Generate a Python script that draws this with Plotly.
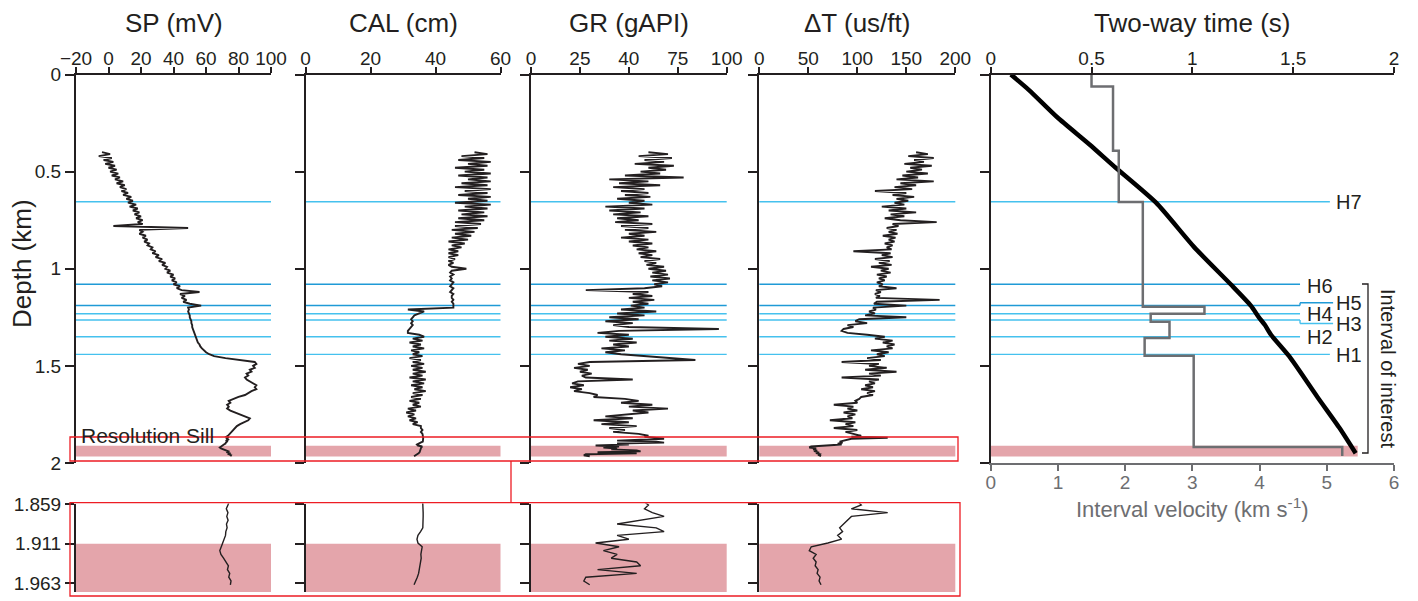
import plotly.graph_objects as go

# ---------------- data ----------------
# log sample depths (km): regular main section + finer section over the sill
DEPTH_MAIN = [round(0.40 + 0.01 * i, 3) for i in range(146)]      # 0.40 .. 1.85
DEPTH_DETAIL = [round(1.86 + 0.005 * i, 3) for i in range(22)]    # 1.86 .. 1.965

SP_MAIN = [-4, 1, -6, 2, -3, 3, -2, 4, 0, 5, 1, 6, 2, 7, 4, 9, 5, 10, 7, 11,
           8, 12, 9, 14, 11, 15, 12, 17, 13, 18, 15, 19, 16, 20, 17, 21, 18, 21, 3, 49,
           19, 21, 19, 23, 21, 24, 22, 25, 24, 27, 26, 29, 27, 31, 29, 33, 31, 35, 33, 36,
           35, 38, 36, 40, 38, 41, 39, 42, 40, 44, 42, 45, 56, 44, 47, 45, 48, 46, 50, 57,
           49, 49.5, 49, 49.5, 50, 50, 50.5, 51, 51, 51.5, 51.5, 52, 52.5, 53, 53, 53.5, 54, 54.5, 55, 56,
           56.5, 57.5, 58.5, 60, 62, 65, 72, 82, 90, 91, 89, 90, 87, 88, 85, 86, 84, 85, 87, 89,
           91, 90, 91, 88, 86, 84, 80, 77, 74, 75, 73, 74, 73, 75, 78, 81, 84, 87, 86, 83,
           81, 79, 78, 77, 76, 75]
SP_DETAIL = [73.5, 72.5, 73.5, 72.8, 73.6, 72.6, 73.0, 72.2, 72.0, 71.0, 70.2,
             69.4, 68.5, 69.2, 70.8, 72.5, 73.8, 73.2, 74.6, 74.0, 75.4, 75.0]

CAL_MAIN = [52, 56, 48, 55, 47, 57, 50, 56, 46, 55, 49, 57, 47, 56, 50, 57, 48, 56, 46, 57,
            49, 56, 47, 57, 50, 56, 46, 57, 49, 56, 47, 55, 48, 56, 47, 55, 46, 54, 46, 53,
            45, 52, 46, 51, 45, 50, 44, 49, 45, 48, 44, 47, 44, 47, 44, 46, 44, 45.5, 44, 45,
            49.5, 45, 44.5, 45.5, 44.5, 45, 44.5, 45.5, 45, 44.5, 45.5, 45, 44.5, 45.5, 45, 45, 45.5, 45, 45.5, 45.5,
            45.5, 31.5, 36.5, 35, 33.5, 33, 32.5, 33, 32.5, 33, 32.5, 32, 31.5, 31.5, 35, 36.5, 33, 36, 32, 35.5,
            33, 36.5, 32.5, 35, 33, 36, 32, 35.5, 33, 36.5, 32.5, 36, 33, 37, 33, 36, 32, 37, 33, 36.5,
            32.5, 36, 33.5, 37, 33, 36, 32.5, 35.5, 32, 35, 33, 35.5, 31.5, 34, 31, 33.5, 31.5, 34, 32, 34.5,
            33, 35.5, 35.5, 36, 35.5, 36]
CAL_DETAIL = [36.2, 36.2, 36.2, 36.2, 36.1, 36.2, 36.1, 35.4, 34.6, 34.3, 34.6,
              35.9, 35.6, 35.5, 35.6, 35.4, 35.4, 35.1, 34.8, 34.4, 33.8, 33.4]

GR_MAIN = [60, 70, 55, 72, 58, 68, 53, 73, 60, 69, 56, 66, 48, 78, 40, 60, 45, 66, 42, 58,
           46, 60, 48, 61, 44, 58, 50, 62, 38, 58, 40, 56, 42, 60, 44, 55, 43, 62, 46, 60,
           48, 64, 50, 58, 46, 60, 50, 62, 52, 60, 54, 64, 55, 62, 56, 66, 58, 64, 59, 68,
           60, 69, 62, 70, 61, 71, 62, 70, 63, 67, 58, 28, 60, 52, 62, 50, 63, 52, 60, 51,
           58, 46, 64, 44, 58, 40, 55, 38, 52, 42, 50, 96, 45, 34, 50, 38, 52, 40, 54, 42,
           50, 36, 48, 38, 46, 60, 70, 84, 30, 24, 30, 22, 29, 25, 31, 26, 28, 52, 24, 21,
           27, 20, 26, 22, 30, 34, 32, 48, 55, 46, 62, 50, 70, 52, 60, 48, 38, 52, 32, 50,
           36, 54, 40, 48, 42, 55]
GR_DETAIL = [60, 58, 62, 68, 56, 44, 64, 68, 44, 50, 33,
             45, 37, 44, 41, 54, 56, 34, 54, 28, 27, 30]

DT_MAIN = [160, 172, 152, 178, 158, 168, 148, 176, 154, 166, 150, 172, 146, 162, 140, 178, 144, 160, 138, 156,
           118, 150, 136, 158, 140, 152, 138, 148, 125, 150, 132, 160, 134, 148, 128, 144, 181, 136, 142, 130,
           140, 132, 141, 126, 139, 132, 138, 128, 136, 130, 135, 96, 134, 125, 136, 118, 133, 122, 135, 114,
           132, 124, 134, 120, 130, 122, 128, 120, 126, 122, 140, 119, 124, 118, 123, 119, 184, 120, 117, 150,
           116, 119, 112, 118, 108, 150, 102, 98, 110, 90, 96, 86, 84, 90, 110, 128, 118, 136, 126, 138,
           130, 136, 114, 132, 120, 128, 110, 124, 84, 122, 112, 130, 108, 140, 112, 124, 84, 122, 112, 118,
           108, 116, 104, 118, 110, 116, 104, 102, 98, 100, 76, 96, 90, 100, 86, 98, 90, 95, 72, 98,
           88, 96, 76, 100, 88, 96]
DT_DETAIL = [104, 94, 131, 94, 90, 86, 82, 85, 80, 84, 70,
             53, 51, 58, 55, 58, 57, 60, 59, 62, 61, 63]

# horizons (depth, km)
HORIZON_NAMES = ["H7", "H6", "H5", "H4", "H3", "H2", "H1"]
HORIZON_DEPTHS = [0.655, 1.080, 1.189, 1.232, 1.264, 1.350, 1.441]
HORIZON_LABEL_DEPTHS = [0.655, 1.090, 1.175, 1.232, 1.282, 1.350, 1.445]

# resolution sill interval (km)
SILL_TOP, SILL_BASE = 1.911, 1.966

# two-way time vs depth
TWT_DEPTH = [0.0, 0.08, 0.22, 0.36, 0.48, 0.66, 0.89, 1.08, 1.19, 1.25, 1.29, 1.34, 1.45, 1.66, 1.82, 1.95]
TWT_TIME = [0.10, 0.19, 0.33, 0.49, 0.62, 0.82, 1.01, 1.19, 1.29, 1.33, 1.36, 1.39, 1.48, 1.62, 1.73, 1.81]

# interval velocity (km/s) per layer
VEL_TOPS = [0.0, 0.062, 0.392, 0.656, 1.196, 1.232, 1.273, 1.356, 1.448, 1.918]
VEL_BASE = 1.964
VEL_VALUES = [1.5, 1.82, 1.905, 2.263, 3.18, 2.38, 2.66, 2.29, 3.02, 5.23]

# ---------------- styling ----------------
# page body keeps the browser's default 8 px margin, so the figure is drawn 8 px smaller
# and all target pixel positions are shifted by that offset
OFF = 8
W, H = 1418 - OFF, 601 - OFF
INK = "#231f20"
GREY = "#6d6e71"
CYAN = "#45c1ee"
CYAN_DARK = "#1f9ad6"
PINK = "#e4a5ab"
RED = "#ed1c24"
FONT = "Arial, Liberation Sans, sans-serif"


def px(x):
    return (x - OFF) / W


def py(y):
    return 1 - (y - OFF) / H


TOP_Y = (74.5, 463.0)
BOT_Y = (503.5, 592.0)
BOT_RANGE = (1.858, 1.9745)

PANELS = [
    dict(title="SP (mV)", rng=[-20, 100], tv=[-20, 0, 20, 40, 60, 80, 100], tt=None, xpx=(76, 271),
         data=(SP_MAIN + SP_DETAIL)),
    dict(title="CAL (cm)", rng=[0, 60], tv=[0, 20, 40, 60], tt=None, xpx=(305.5, 500.5),
         data=(CAL_MAIN + CAL_DETAIL)),
    dict(title="GR (gAPI)", rng=[0, 100], tv=[0, 25, 50, 75, 100], tt=["0", "25", "40", "75", "100"],
         xpx=(531, 726.7), data=(GR_MAIN + GR_DETAIL)),
    dict(title="ΔT (us/ft)", rng=[0, 200], tv=[0, 50, 100, 150, 200], tt=None, xpx=(759.3, 955.3),
         data=(DT_MAIN + DT_DETAIL)),
]
DEPTH_ALL = DEPTH_MAIN + DEPTH_DETAIL
RIGHT_X = (990.7, 1394.0)

fig = go.Figure()
layout = dict(width=W, height=H, margin=dict(l=0, r=0, t=0, b=0, pad=0, autoexpand=False),
              paper_bgcolor="white", plot_bgcolor="rgba(0,0,0,0)",
              showlegend=False, font=dict(family=FONT, color=INK))
shapes = []
annotations = []


def note(text, x, y, size, color=INK, angle=0, xanchor="center", yanchor="middle", yref="paper"):
    annotations.append(dict(text=text, x=x, y=y, xref="paper", yref=yref, showarrow=False,
                            textangle=angle, xanchor=xanchor, yanchor=yanchor,
                            font=dict(size=size, color=color, family=FONT)))


axis_common = dict(showgrid=False, zeroline=False, showline=True, linecolor=INK, linewidth=2,
                   automargin=False,
                   ticks="outside", tickcolor=INK, tickwidth=2, tickfont=dict(size=19, color=INK, family=FONT))

for i, p in enumerate(PANELS):
    n_top = i + 1
    n_bot = i + 7
    xdom = [px(p["xpx"][0]), px(p["xpx"][1])]
    xa_top = dict(axis_common, domain=xdom, range=p["rng"], side="top", anchor=f"y{n_top}",
                  tickvals=p["tv"], ticklen=6, ticklabelstandoff=-6)
    if p["tt"]:
        xa_top["ticktext"] = p["tt"]
    ya_top = dict(axis_common, domain=[py(TOP_Y[1]), py(TOP_Y[0])], range=[2, 0], anchor=f"x{n_top}",
                  tickvals=[0, 0.5, 1, 1.5, 2], ticktext=["0", "0.5", "1", "1.5", "2"], ticklen=9,
                  showticklabels=(i == 0))
    xa_bot = dict(domain=xdom, range=p["rng"], visible=False, anchor=f"y{n_bot}", automargin=False)
    ya_bot = dict(axis_common, domain=[py(BOT_Y[1]), py(BOT_Y[0])], range=[BOT_RANGE[1], BOT_RANGE[0]],
                  anchor=f"x{n_bot}", tickvals=[1.859, 1.911, 1.963], ticktext=["1.859", "1.911", "1.963"],
                  ticklen=9, showticklabels=(i == 0))
    sx_t = "xaxis" if n_top == 1 else f"xaxis{n_top}"
    sy_t = "yaxis" if n_top == 1 else f"yaxis{n_top}"
    layout[sx_t] = xa_top
    layout[sy_t] = ya_top
    layout[f"xaxis{n_bot}"] = xa_bot
    layout[f"yaxis{n_bot}"] = ya_bot

    xr_t = "x" if n_top == 1 else f"x{n_top}"
    yr_t = "y" if n_top == 1 else f"y{n_top}"
    for xr, yr, lw in ((xr_t, yr_t, 1.9), (f"x{n_bot}", f"y{n_bot}", 1.4)):
        fig.add_trace(go.Scatter(x=p["data"], y=DEPTH_ALL, mode="lines", xaxis=xr, yaxis=yr,
                                 line=dict(color=INK, width=lw), hoverinfo="skip"))

    # sill band
    shapes.append(dict(type="rect", xref=f"{xr_t} domain", yref=yr_t, x0=0, x1=1, y0=SILL_TOP, y1=SILL_BASE,
                       fillcolor=PINK, line=dict(width=0), layer="below"))
    shapes.append(dict(type="rect", xref=f"x{n_bot} domain", yref=f"y{n_bot}", x0=0, x1=1, y0=SILL_TOP,
                       y1=BOT_RANGE[1], fillcolor=PINK, line=dict(width=0), layer="below"))
    # horizons
    for name, d in zip(HORIZON_NAMES, HORIZON_DEPTHS):
        col = CYAN_DARK if name in ("H6", "H5") else CYAN
        shapes.append(dict(type="line", xref=f"{xr_t} domain", yref=yr_t, x0=0, x1=1, y0=d, y1=d,
                           line=dict(color=col, width=1.4), layer="below"))

    note(p["title"], px(sum(p["xpx"]) / 2), py(23), 26)

# ---- right panel: two-way time and interval velocity ----
rdom = [px(RIGHT_X[0]), px(RIGHT_X[1])]
layout["xaxis5"] = dict(axis_common, domain=rdom, range=[0, 2], side="top", anchor="y5",
                        tickvals=[0, 0.5, 1, 1.5, 2], ticktext=["0", "0.5", "1", "1.5", "2"], ticklen=6,
                        ticklabelstandoff=-6)
layout["yaxis5"] = dict(axis_common, domain=[py(TOP_Y[1]), py(TOP_Y[0])], range=[2, 0], anchor="x5",
                        tickvals=[0, 0.5, 1, 1.5, 2], ticklen=9, showticklabels=False)
layout["xaxis6"] = dict(axis_common, domain=rdom, range=[0, 6], side="bottom", anchor="y5",
                        overlaying="x5", tickvals=[0, 1, 2, 3, 4, 5, 6], ticklen=6, ticklabelstandoff=-5,
                        linecolor=GREY, tickcolor=GREY, tickfont=dict(size=19, color=GREY, family=FONT))

vel_x = VEL_VALUES + [VEL_VALUES[-1]]
vel_y = VEL_TOPS + [VEL_BASE]
fig.add_trace(go.Scatter(x=vel_x, y=vel_y, mode="lines", xaxis="x6", yaxis="y5",
                         line=dict(color=GREY, width=2.5, shape="vh"), hoverinfo="skip"))
fig.add_trace(go.Scatter(x=TWT_TIME, y=TWT_DEPTH, mode="lines", xaxis="x5", yaxis="y5",
                         line=dict(color="black", width=4.5, shape="spline", smoothing=0.6), hoverinfo="skip"))

shapes.append(dict(type="rect", xref="x5 domain", yref="y5", x0=0, x1=0.91, y0=SILL_TOP, y1=SILL_BASE,
                   fillcolor=PINK, line=dict(width=0), layer="below"))

SHORT, LONG, MID = 0.767, 0.849, 0.841
for name, d, ld in zip(HORIZON_NAMES, HORIZON_DEPTHS, HORIZON_LABEL_DEPTHS):
    col = CYAN_DARK if name in ("H6", "H5") else CYAN
    ln = dict(color=col, width=1.4)
    if name in ("H5", "H3"):
        shapes.append(dict(type="line", xref="x5 domain", yref="y5", x0=0, x1=SHORT, y0=d, y1=d, line=ln, layer="below"))
        shapes.append(dict(type="line", xref="x5 domain", yref="y5", x0=SHORT, x1=SHORT, y0=d, y1=ld, line=ln, layer="below"))
        shapes.append(dict(type="line", xref="x5 domain", yref="y5", x0=SHORT, x1=LONG, y0=ld, y1=ld, line=ln, layer="below"))
        lx = 1334
    elif name in ("H7", "H1"):
        shapes.append(dict(type="line", xref="x5 domain", yref="y5", x0=0, x1=MID, y0=d, y1=d, line=ln, layer="below"))
        lx = 1334
    else:
        shapes.append(dict(type="line", xref="x5 domain", yref="y5", x0=0, x1=SHORT, y0=d, y1=d, line=ln, layer="below"))
        lx = 1305
    note(name, px(lx), ld, 20, xanchor="left", yref="y5")

note("Two-way time (s)", px(sum(RIGHT_X) / 2), py(23), 26)
note("Interval velocity (km s<sup>-1</sup>)", px(sum(RIGHT_X) / 2), py(508), 22, color=GREY)
note("Depth (km)", px(22), py(264), 26, angle=-90)
note("Resolution Sill", px(79), py(435), 21, xanchor="left")
note("Interval of interest", px(1388), py(368), 20, angle=90)

# bracket for interval of interest
shapes.append(dict(type="path", xref="paper", yref="paper",
                   path=f"M {px(1362)},{py(284)} L {px(1368)},{py(284)} L {px(1368)},{py(453)} L {px(1362)},{py(453)}",
                   line=dict(color=INK, width=1.3)))

# red zoom frames and connector
shapes.append(dict(type="rect", xref="paper", yref="paper", x0=px(70), x1=px(958), y0=py(461), y1=py(437),
                   line=dict(color=RED, width=1.3)))
shapes.append(dict(type="rect", xref="paper", yref="paper", x0=px(70), x1=px(960), y0=py(596), y1=py(502.7),
                   line=dict(color=RED, width=1.3)))
shapes.append(dict(type="line", xref="paper", yref="paper", x0=px(511), x1=px(511), y0=py(461), y1=py(502.7),
                   line=dict(color=RED, width=1.3)))

layout["shapes"] = shapes
layout["annotations"] = annotations
fig.update_layout(**layout)
fig.write_html("out.html")
